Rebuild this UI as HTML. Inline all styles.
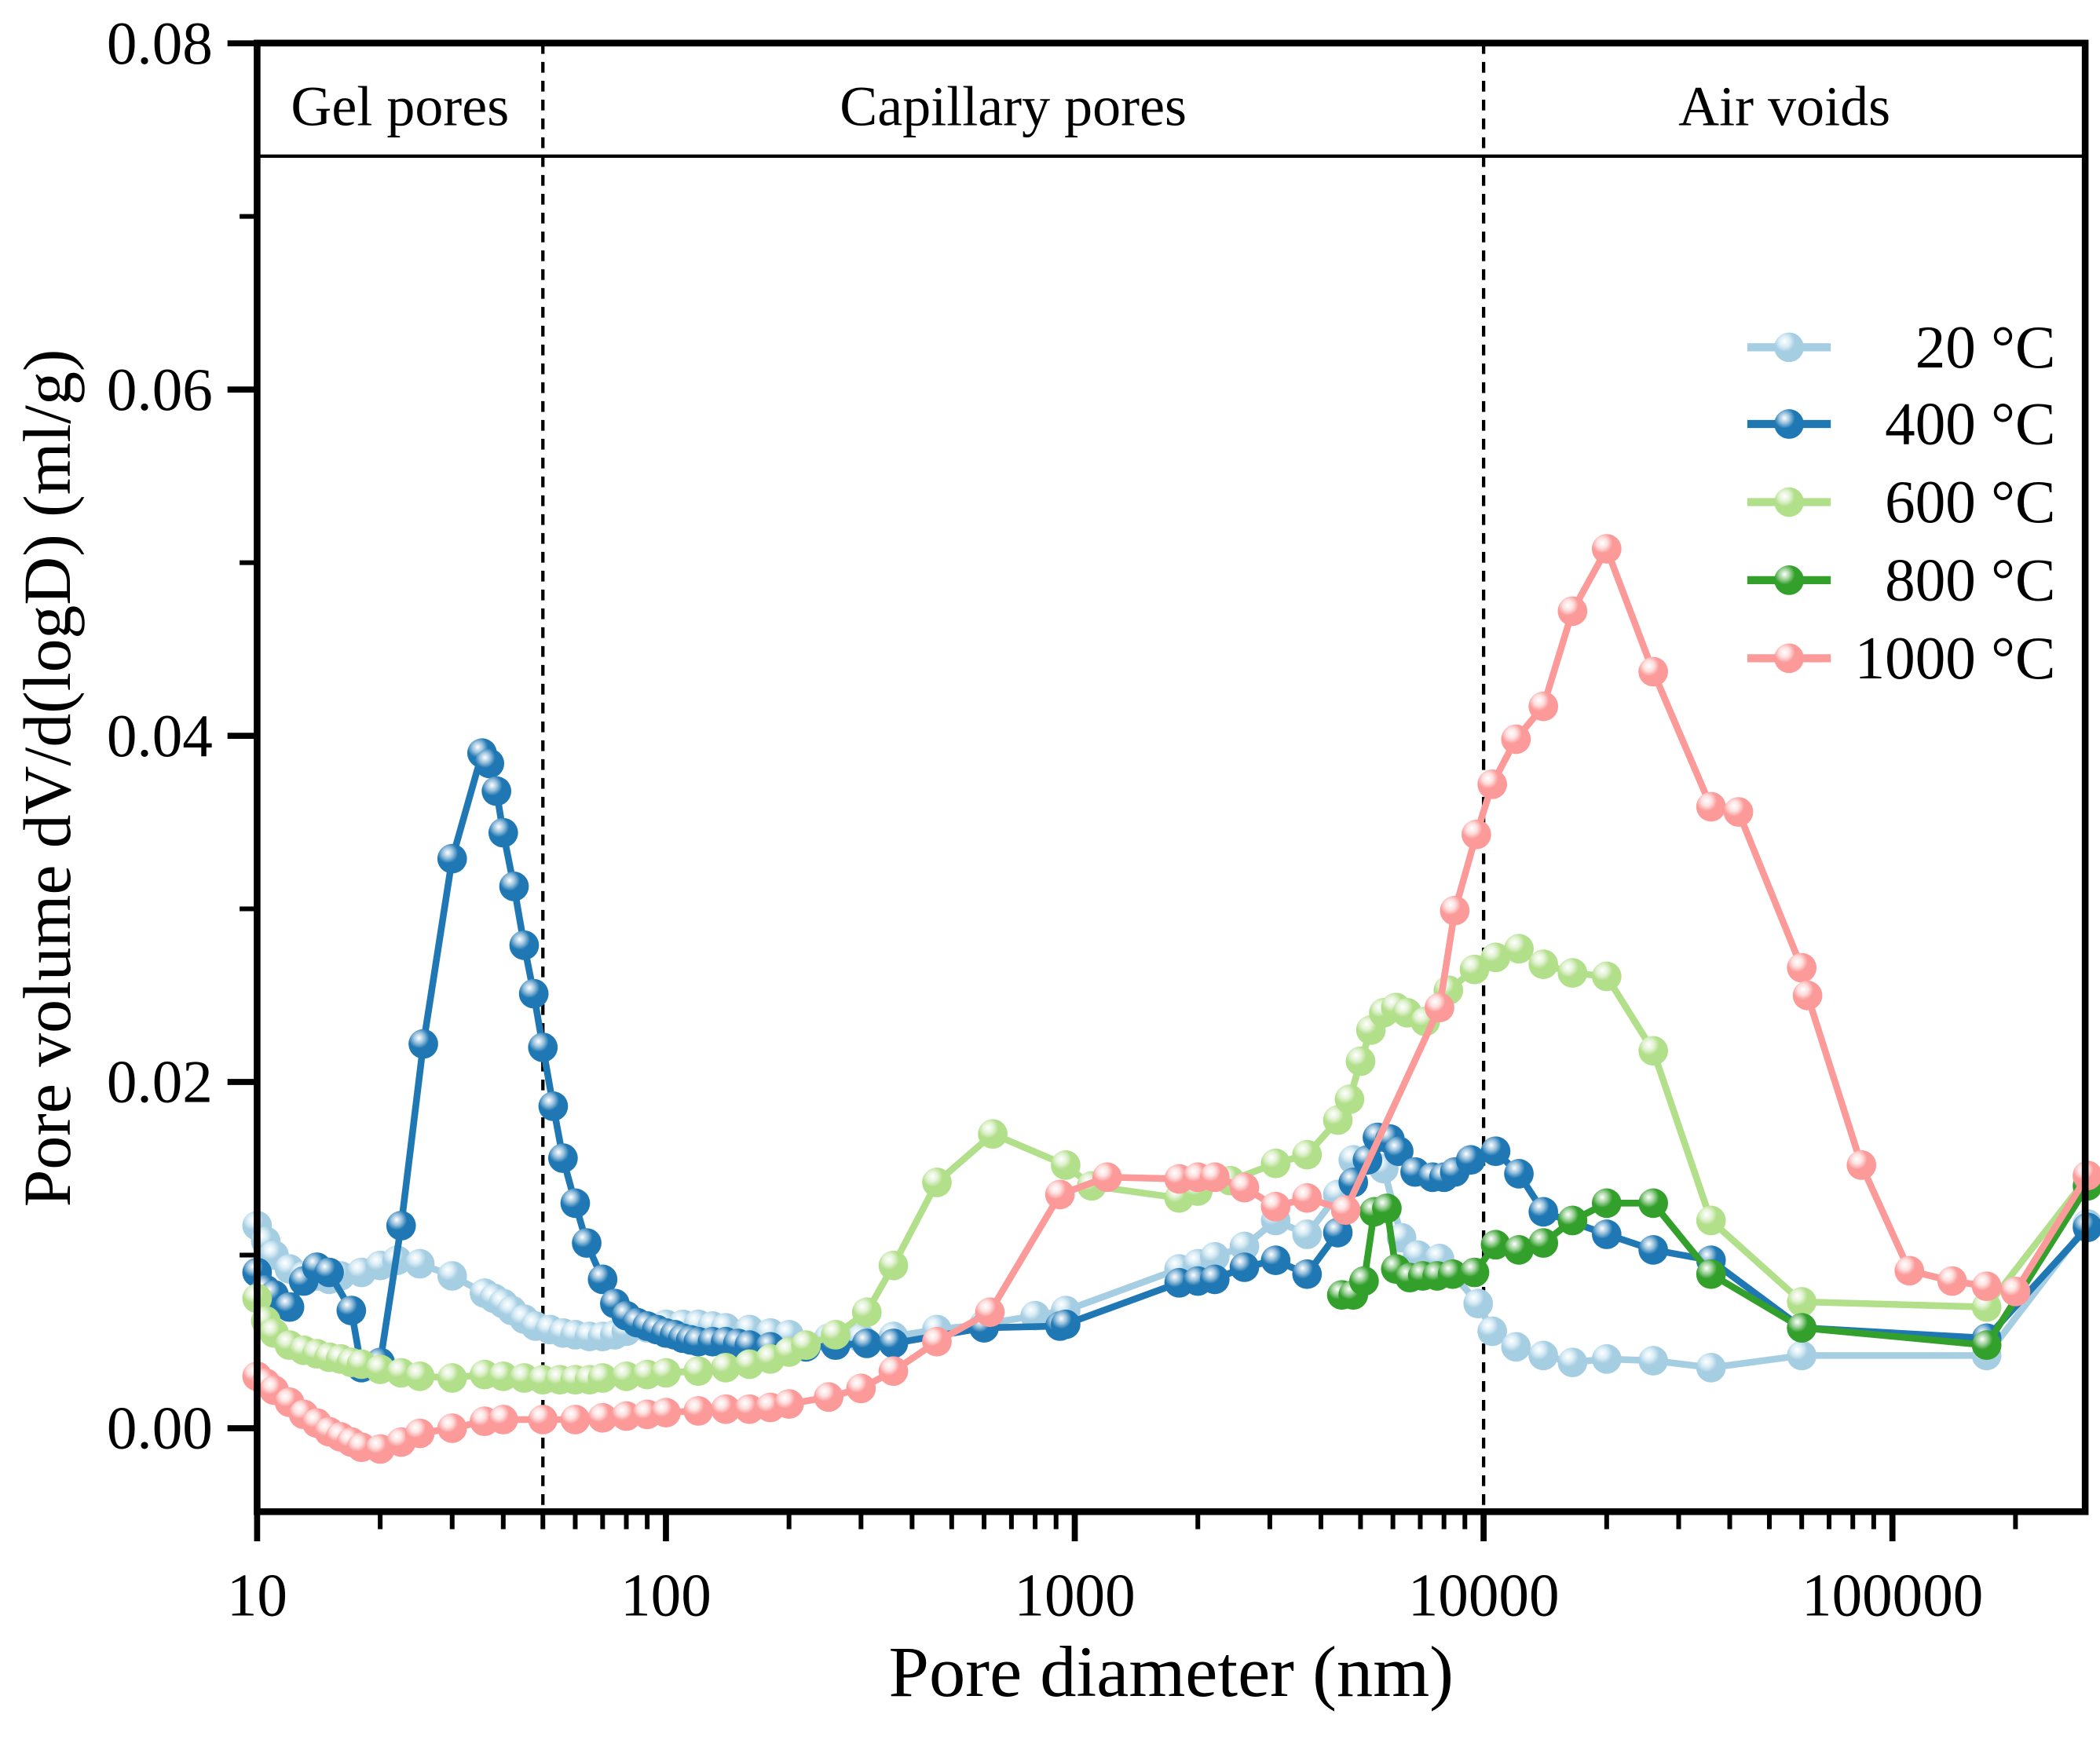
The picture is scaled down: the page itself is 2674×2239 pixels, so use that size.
<!DOCTYPE html>
<html><head><meta charset="utf-8"><style>
html,body{margin:0;padding:0;background:#fff;}
svg{display:block;font-family:"Liberation Serif",serif;}
</style></head><body>
<svg id="chart" width="2674" height="2239" viewBox="0 0 1560 1306" preserveAspectRatio="none" xmlns="http://www.w3.org/2000/svg">
<defs>
<radialGradient id="g0" cx="0.35" cy="0.3" r="0.7"><stop offset="0" stop-color="#fff"/><stop offset="0.25" stop-color="#dbeef6"/><stop offset="0.5" stop-color="#a6cee3"/></radialGradient>
<radialGradient id="g1" cx="0.35" cy="0.3" r="0.7"><stop offset="0" stop-color="#fff"/><stop offset="0.25" stop-color="#9cc3de"/><stop offset="0.5" stop-color="#1f78b4"/></radialGradient>
<radialGradient id="g2" cx="0.35" cy="0.3" r="0.7"><stop offset="0" stop-color="#fff"/><stop offset="0.25" stop-color="#e3f3d5"/><stop offset="0.5" stop-color="#b2df8a"/></radialGradient>
<radialGradient id="g3" cx="0.35" cy="0.3" r="0.7"><stop offset="0" stop-color="#fff"/><stop offset="0.25" stop-color="#a3d49f"/><stop offset="0.5" stop-color="#33a02c"/></radialGradient>
<radialGradient id="g4" cx="0.35" cy="0.3" r="0.7"><stop offset="0" stop-color="#fff"/><stop offset="0.25" stop-color="#fde0df"/><stop offset="0.5" stop-color="#fb9a99"/></radialGradient>
</defs>
<g id="plot"></g>
</svg>
<script>
const seriesNames = ["20 °C","400 °C","600 °C","800 °C","1000 °C"];
const seriesColors = ["#a6cee3","#1f78b4","#b2df8a","#33a02c","#fb9a99"];
const xTicks = [10,100,1000,10000,100000];
const xTickLabels = ["10","100","1000","10000","100000"];
const yTicks = [0,0.02,0.04,0.06,0.08];
const yTickLabels = ["0.00","0.02","0.04","0.06","0.08"];
const regionBounds = [50,10000];
const regionLabels = ["Gel pores","Capillary pores","Air voids"];
const s20x = [10,10.5,11,12,13,14,15,16,18,20,22,25,30,36,38,40,42,45,48,52,56,60,65,70,75,80,90,100,110,120,130,140,160,180,200,250,300,360,460,600,800,950,1800,2000,2200,2600,3100,3700,4400,4800,5200,5700,6300,6900,7800,9700,10500,12000,14000,16500,20000,26000,36000,60000,170000,300000];
const s20y = [0.0117,0.0108,0.0100,0.0092,0.0088,0.0088,0.0086,0.0088,0.0090,0.0094,0.0097,0.0095,0.0088,0.0078,0.0075,0.0072,0.0068,0.0063,0.0059,0.0057,0.0055,0.0054,0.0053,0.0053,0.0054,0.0056,0.0058,0.0060,0.0060,0.0060,0.0059,0.0058,0.0057,0.0055,0.0054,0.0052,0.0052,0.0053,0.0057,0.0060,0.0065,0.0068,0.0092,0.0095,0.0099,0.0105,0.0120,0.0112,0.0135,0.0155,0.0155,0.0150,0.0110,0.0100,0.0098,0.0072,0.0056,0.0047,0.0042,0.0038,0.0040,0.0039,0.0035,0.0042,0.0042,0.0118];
const s400x = [10,10.5,11,12,13,14,15,17,18,20,22.5,25.5,30,35.5,37,38.5,40,42.5,45,47.5,50,53,56,60,64,70,75,80,85,90,95,100,105,110,115,120,130,140,150,160,180,220,260,310,360,600,920,950,1800,2000,2200,2600,3100,3700,4400,4800,5200,5500,5900,6200,6800,7500,8000,8500,9300,10700,12200,14000,20000,26000,36000,60000,170000,300000];
const s400y = [0.0090,0.0080,0.0077,0.0070,0.0085,0.0093,0.0090,0.0068,0.0035,0.0038,0.0117,0.0222,0.0329,0.0390,0.0384,0.0368,0.0344,0.0313,0.0279,0.0251,0.0220,0.0186,0.0156,0.0130,0.0107,0.0086,0.0072,0.0065,0.0061,0.0059,0.0057,0.0055,0.0054,0.0052,0.0051,0.0050,0.0050,0.0050,0.0049,0.0048,0.0047,0.0047,0.0048,0.0049,0.0049,0.0058,0.0059,0.0060,0.0084,0.0085,0.0086,0.0093,0.0097,0.0089,0.0113,0.0142,0.0155,0.0168,0.0167,0.0160,0.0148,0.0145,0.0145,0.0148,0.0155,0.0160,0.0147,0.0125,0.0112,0.0103,0.0097,0.0058,0.0052,0.0116];
const s600x = [10,10.5,11,12,13,14,15,16,17,18,20,22.5,25,30,36,40,45,50,55,60,65,70,80,90,100,120,140,160,180,200,220,260,310,360,460,630,950,1100,1800,2000,2400,3100,3700,4400,4700,5000,5300,5700,6100,6500,7200,8200,9500,10700,12200,14000,16500,20000,26000,36000,60000,170000,300000];
const s600y = [0.0075,0.0062,0.0055,0.0048,0.0045,0.0043,0.0041,0.0040,0.0038,0.0037,0.0034,0.0032,0.0030,0.0029,0.0031,0.0030,0.0029,0.0028,0.0028,0.0028,0.0028,0.0029,0.0030,0.0031,0.0032,0.0033,0.0035,0.0037,0.0040,0.0044,0.0048,0.0054,0.0067,0.0094,0.0142,0.0170,0.0152,0.0140,0.0133,0.0137,0.0143,0.0153,0.0158,0.0178,0.0190,0.0212,0.0230,0.0240,0.0243,0.0240,0.0235,0.0253,0.0265,0.0272,0.0277,0.0268,0.0263,0.0261,0.0218,0.0120,0.0073,0.0070,0.0145];
const s800x = [4500,4800,5100,5400,5800,6100,6600,7100,7700,8400,9500,10700,12200,14000,16500,20000,26000,36000,60000,170000,300000];
const s800y = [0.0077,0.0077,0.0085,0.0125,0.0127,0.0092,0.0087,0.0088,0.0088,0.0089,0.0090,0.0106,0.0103,0.0107,0.0120,0.0130,0.0130,0.0089,0.0058,0.0048,0.0140];
const s1000x = [10,10.5,11,12,13,14,15,16,17,18,20,22.5,25,30,36,40,50,60,70,80,90,100,120,140,160,180,200,250,300,360,460,620,920,1200,1800,2000,2200,2600,3100,3700,4600,7800,8500,9600,10500,12000,14000,16500,20000,26000,36000,42000,60000,62000,84000,110000,140000,170000,200000,300000];
const s1000y = [0.0030,0.0026,0.0022,0.0015,0.0008,0.0003,-0.0002,-0.0005,-0.0008,-0.0011,-0.0012,-0.0008,-0.0003,0.0000,0.0004,0.0005,0.0005,0.0005,0.0006,0.0007,0.0008,0.0009,0.0010,0.0011,0.0011,0.0012,0.0014,0.0018,0.0023,0.0033,0.0050,0.0067,0.0135,0.0145,0.0144,0.0145,0.0145,0.0139,0.0128,0.0133,0.0126,0.0243,0.0299,0.0343,0.0372,0.0398,0.0417,0.0472,0.0508,0.0437,0.0359,0.0356,0.0266,0.0250,0.0152,0.0091,0.0085,0.0082,0.0079,0.0146];
const allX = [s20x,s400x,s600x,s800x,s1000x];
const allY = [s20y,s400y,s600y,s800y,s1000y];

const L=191,R=1549,T=32,B=1123;
const X0=1, DEC=303.7;
function xs(v){return L+(Math.log10(v)-X0)*DEC;}
function ys(v){return 1061-v*12860;}
const NS="http://www.w3.org/2000/svg";
const g=document.getElementById('plot');
function el(tag,attrs,parent){const e=document.createElementNS(NS,tag);for(const k in attrs)e.setAttribute(k,attrs[k]);(parent||g).appendChild(e);return e;}

regionBounds.forEach(function(b,i){
  const d=el('line',{x1:xs(b),x2:xs(b),y1:T,y2:B,stroke:'#000','stroke-width':2.5,'stroke-dasharray':'8,6'});
  
  
});
const hl=el('line',{x1:L,x2:R,y1:116,y2:116,stroke:'#000','stroke-width':2.5});


const edges=[L].concat(regionBounds.map(xs)).concat([R]);
regionLabels.forEach(function(t,i){
  const tx=el('text',{x:(edges[i]+edges[i+1])/2,y:93,'font-size':42,'text-anchor':'middle'});
  tx.textContent=t;
  
  
});

for(let s=0;s<allX.length;s++){
  const sg=el('g',{});
  
  
  const pts=allX[s].map((x,i)=>xs(x).toFixed(1)+','+ys(allY[s][i]).toFixed(1)).join(' ');
  const pl=el('polyline',{points:pts,fill:'none',stroke:seriesColors[s],'stroke-width':5,'stroke-linejoin':'round'},sg);
  
  
  allX[s].forEach(function(x,i){
    const c=el('circle',{cx:xs(x),cy:ys(allY[s][i]),r:11,fill:'url(#g'+s+')'},sg);
    
    
  });
}

const fr=el('rect',{x:L,y:T,width:R-L,height:B-T,fill:'none',stroke:'#000','stroke-width':5});



xTicks.forEach(function(v,i){
  const tk=el('line',{x1:xs(v),x2:xs(v),y1:B,y2:B+22,stroke:'#000','stroke-width':4.5});
  
  
  const t=el('text',{x:xs(v),y:1200,'font-size':45,'text-anchor':'middle'});
  t.textContent=xTickLabels[i];
  
  
  for(let m=2;m<=9;m++){
    const mv=v*m; if(xs(mv)>R) break;
    const mt=el('line',{x1:xs(mv),x2:xs(mv),y1:B,y2:B+13,stroke:'#000','stroke-width':3.5});
    
    
  }
});
yTicks.forEach(function(v,i){
  const tk=el('line',{x1:L-22,x2:L,y1:ys(v),y2:ys(v),stroke:'#000','stroke-width':4.5});
  
  
  const t=el('text',{x:158,y:ys(v)+15,'font-size':45,'text-anchor':'end'});
  t.textContent=yTickLabels[i];
  
  
  if(i<yTicks.length-1){
    const mt=el('line',{x1:L-13,x2:L,y1:ys(v+0.01),y2:ys(v+0.01),stroke:'#000','stroke-width':3.5});
    
    
  }
});
const xt=el('text',{x:870,y:1260,'font-size':54,'text-anchor':'middle'});
xt.textContent='Pore diameter (nm)';


const yt=el('text',{x:0,y:0,'font-size':50,'text-anchor':'middle',transform:'translate(52,578) rotate(-90)'});
yt.textContent='Pore volume dV/d(logD) (ml/g)';



const legendY=[258,315,373,431,489];
seriesNames.forEach(function(n,i){
  const lg=el('g',{});
  
  
  el('line',{x1:1298,x2:1320,y1:legendY[i],y2:legendY[i],stroke:seriesColors[i],'stroke-width':6},lg);
  el('line',{x1:1338,x2:1360,y1:legendY[i],y2:legendY[i],stroke:seriesColors[i],'stroke-width':6},lg);
  el('circle',{cx:1329,cy:legendY[i],r:11,fill:'url(#g'+i+')'},lg);
  const t=el('text',{x:1527,y:legendY[i]+15,'font-size':45,'text-anchor':'end'},lg);
  t.textContent=n;
});
</script>
</body></html>
